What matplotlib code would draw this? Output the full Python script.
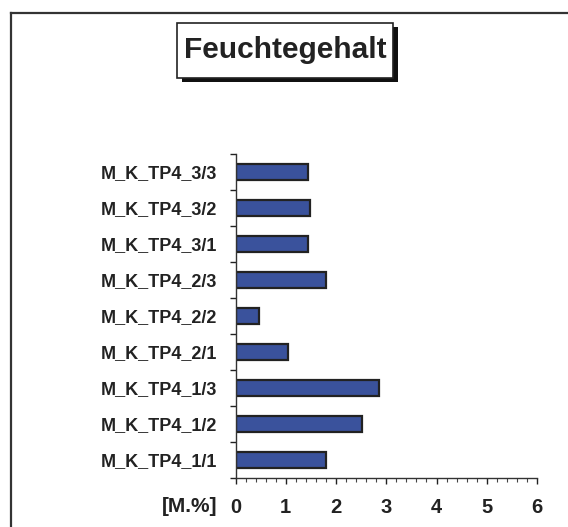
import matplotlib.pyplot as plt
from matplotlib.lines import Line2D
from matplotlib.patches import Rectangle
from matplotlib.ticker import MultipleLocator

# data (bottom to top)
categories = ["M_K_TP4_1/1", "M_K_TP4_1/2", "M_K_TP4_1/3",
              "M_K_TP4_2/1", "M_K_TP4_2/2", "M_K_TP4_2/3",
              "M_K_TP4_3/1", "M_K_TP4_3/2", "M_K_TP4_3/3"]
values = [1.81, 2.51, 2.85, 1.05, 0.47, 1.81, 1.44, 1.49, 1.44]
x_ticks = [0, 1, 2, 3, 4, 5, 6]

plt.rcParams['font.family'] = ['Liberation Sans', 'DejaVu Sans']

W, H = 568, 527
fig = plt.figure(figsize=(W / 100, H / 100), dpi=100)

# axes box in pixel coordinates
left, right, top, bottom = 235.5, 537, 154, 478
ax = fig.add_axes([left / W, 1 - bottom / H, (right - left) / W, (bottom - top) / H])

ypos = range(len(categories))
ax.barh(ypos, values, height=0.42, color="#3A529C", edgecolor="#222222", linewidth=1.6)

ax.set_xlim(0, 6)
ax.set_ylim(-0.5, len(categories) - 0.5)
ax.set_xticks(x_ticks)
ax.set_xticklabels([str(t) for t in x_ticks], fontsize=14.5, fontweight='bold')
ax.xaxis.set_minor_locator(MultipleLocator(0.2))
ax.tick_params(axis='x', which='major', direction='out', length=4.5, width=1.0,
               pad=10, colors="#222222", labelcolor="#222222")
ax.tick_params(axis='x', which='minor', direction='out', length=3.0, width=0.8,
               colors="#444444")

# category labels at bar centres, ticks at category boundaries
ax.set_yticks(list(ypos))
ax.set_yticklabels(categories, fontsize=13, fontweight='bold', color="#222222")
ax.tick_params(axis='y', which='major', length=0, pad=13)
ax.set_yticks([i - 0.5 for i in range(len(categories) + 1)], minor=True)
ax.tick_params(axis='y', which='minor', direction='out', length=4.5, width=1.0,
               colors="#222222")

for s in ['top', 'right']:
    ax.spines[s].set_visible(False)
for s in ['left', 'bottom']:
    ax.spines[s].set_color("#333333")
    ax.spines[s].set_linewidth(1.0)

# unit label next to the zero tick
fig.text(217 / W, 1 - 507 / H, "[M.%]", ha='right', va='center',
         fontsize=15, fontweight='bold', color="#222222")

# title box with drop shadow
bx0, bx1, by0, by1 = 177, 393, 22.5, 77.5
fig.patches.append(Rectangle(((bx0 + 5) / W, 1 - (by1 + 4.5) / H), (bx1 - bx0) / W,
                             (by1 - by0) / H, transform=fig.transFigure,
                             facecolor="#111111", edgecolor="none", zorder=1))
fig.patches.append(Rectangle((bx0 / W, 1 - by1 / H), (bx1 - bx0) / W, (by1 - by0) / H,
                             transform=fig.transFigure, facecolor="white",
                             edgecolor="#222222", linewidth=1.2, zorder=2))
fig.text((bx0 + bx1) / 2 / W, 1 - (by0 + by1) / 2 / H, "Feuchtegehalt",
         ha='center', va='center', fontsize=21.5, fontweight='bold',
         color="#222222", zorder=3)

# outer chart frame (right and bottom edges fall outside the image)
fig.lines.append(Line2D([10.5 / W, 1], [1 - 13 / H, 1 - 13 / H], transform=fig.transFigure,
                        color="#333333", linewidth=1.6))
fig.lines.append(Line2D([10.5 / W, 10.5 / W], [0, 1 - 13 / H], transform=fig.transFigure,
                        color="#333333", linewidth=1.6))

fig.savefig("out.png", dpi=100)
